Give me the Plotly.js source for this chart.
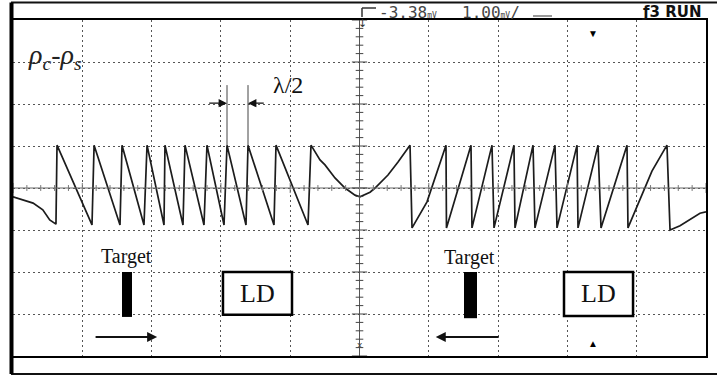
<!DOCTYPE html>
<html>
<head>
<meta charset="utf-8">
<script src="https://cdn.plot.ly/plotly-3.0.1.min.js"></script>
<style>
  html, body { margin: 0; padding: 0; background: #fff; }
  #scope { width: 717px; height: 379px; }
</style>
</head>
<body>
<div id="scope"></div>
<script>
// Scope trace: time and level in screen divisions (10 x 8 grid, centre = 0,0)
const timeDiv = [
  -5.00, -4.86, -4.71, -4.57, -4.47, -4.38,
  -4.365, -3.860,
  -3.830, -3.456,
  -3.427, -3.110,
  -3.066, -2.821,
  -2.807, -2.547,
  -2.518, -2.244,
  -2.201, -1.955,
  -1.912, -1.638,
  -1.609, -1.234,
  -1.205, -0.743,
  -0.700, -0.570, -0.498, -0.354, -0.209, -0.065, 0.007,
  0.152, 0.224, 0.411, 0.556, 0.729,
  0.758, 0.974, 1.248,
  1.255, 1.609,
  1.623, 1.912,
  1.941, 2.229,
  2.244, 2.504,
  2.532, 2.821,
  2.850, 3.139,
  3.153, 3.442,
  3.485, 3.860,
  3.874, 4.220, 4.437,
  4.481, 4.625, 4.769, 4.913, 5.000
];
const levelDiv = [
  -0.21, -0.29, -0.36, -0.52, -0.76, -0.86,
  1.02, -0.88,
  1.02, -0.88,
  1.02, -0.88,
  1.02, -0.88,
  1.02, -0.88,
  1.02, -0.88,
  1.02, -0.88,
  1.02, -0.88,
  1.02, -0.88,
  1.02, -0.88,
  1.02, 0.67, 0.55, 0.24, 0.00, -0.17, -0.21,
  -0.10, 0.00, 0.31, 0.62, 1.02,
  -0.95, -0.33, 1.02,
  -0.95, 1.02,
  -0.95, 1.02,
  -0.95, 1.02,
  -0.95, 1.02,
  -0.95, 1.02,
  -0.95, 1.02,
  -0.95, 1.02,
  -0.95, 1.02,
  -0.95, 0.40, 1.02,
  -1.00, -0.90, -0.76, -0.60, -0.57
];

// Header readouts
const offsetText = '-3.38';
const scaleText = '1.00';
const statusText = 'ƒ3 RUN';

// Labels drawn on the screen
const signalLabel = 'ρ<sub>c</sub>-ρ<sub>s</sub>';
const halfWaveLabel = 'λ/2';
const targetLabel = 'Target';
const ldLabel = 'LD';

// Half-wavelength markers sit on two neighbouring fringe edges
const halfWaveEdges = [timeDiv[20], timeDiv[22]];

const X0 = 13, X1 = 706, Y0 = 20, Y1 = 356;
const px = v => (v - X0) / (X1 - X0);      // pixel -> paper x
const py = v => (Y1 - v) / (Y1 - Y0);      // pixel -> paper y

const shapes = [];
const line = (x0, y0, x1, y1, color, width, ref) => shapes.push({
  type: 'line', xref: ref || 'x', yref: ref || 'y', x0, y0, x1, y1,
  line: { color, width }, layer: 'above'
});

// centre cross-hair with minor ticks
line(0, -4, 0, 4, '#555', 1);
line(-5, 0, 5, 0, '#666', 1);
for (let k = -20; k <= 20; k++) {
  const y = k * 0.2;
  const h = (k % 5 === 0) ? 0.11 : 0.055;
  line(-h, y, h, y, '#444', 1);
}
for (let k = -25; k <= 25; k++) {
  const x = k * 0.2;
  const h = (k % 5 === 0) ? 0.12 : 0.07;
  line(x, -h, x, h, '#777', 1);
}

// outer frame of the screen
line(px(11), py(2.5), px(717), py(2.5), '#111', 2, 'paper');
line(px(11), py(374), px(717), py(374), '#111', 2, 'paper');
line(px(11.5), py(2.5), px(11.5), py(374), '#000', 4, 'paper');
// trigger marker in header
line(px(362), py(8), px(376), py(8), '#333', 1.5, 'paper');
line(px(362), py(8), px(362), py(17), '#333', 1.5, 'paper');
line(px(533), py(16), px(552), py(16), '#555', 1.2, 'paper');

// half wavelength markers
halfWaveEdges.forEach(x => line(x, 1.02, x, 2.45, '#444', 1));

// target bars and LD boxes
shapes.push({ type: 'rect', xref: 'x', yref: 'y', x0: -3.427, x1: -3.283, y0: -3.07, y1: -2.0,
  fillcolor: '#000', line: { width: 0 }, layer: 'above' });
shapes.push({ type: 'rect', xref: 'x', yref: 'y', x0: 1.508, x1: 1.696, y0: -3.1, y1: -2.0,
  fillcolor: '#000', line: { width: 0 }, layer: 'above' });
shapes.push({ type: 'rect', xref: 'x', yref: 'y', x0: -1.97, x1: -0.974, y0: -3.02, y1: -2.0,
  fillcolor: '#fff', line: { color: '#000', width: 2.5 }, layer: 'above' });
shapes.push({ type: 'rect', xref: 'x', yref: 'y', x0: 2.951, x1: 3.947, y0: -3.05, y1: -2.0,
  fillcolor: '#fff', line: { color: '#000', width: 2.5 }, layer: 'above' });

const serif = 'Liberation Serif, Times New Roman, serif';
const mono = 'DejaVu Sans Mono, monospace';

const annotations = [
  { x: -4.40, y: 3.12, xref: 'x', yref: 'y', text: '<i>' + signalLabel + '</i>', showarrow: false,
    font: { family: serif, size: 28, color: '#222' } },
  { x: -1.03, y: 2.45, xref: 'x', yref: 'y', text: halfWaveLabel, showarrow: false,
    font: { family: serif, size: 24, color: '#111' } },
  // λ/2 arrows
  { x: halfWaveEdges[0], y: 2.02, ax: -2.19, ay: 2.02, xref: 'x', yref: 'y', axref: 'x', ayref: 'y',
    text: '', showarrow: true, arrowhead: 2, arrowsize: 1.2, arrowwidth: 1.4, arrowcolor: '#111' },
  { x: halfWaveEdges[1], y: 2.02, ax: -1.36, ay: 2.02, xref: 'x', yref: 'y', axref: 'x', ayref: 'y',
    text: '', showarrow: true, arrowhead: 2, arrowsize: 1.2, arrowwidth: 1.4, arrowcolor: '#111' },
  // targets
  { x: -3.36, y: -1.62, xref: 'x', yref: 'y', text: targetLabel, showarrow: false,
    font: { family: serif, size: 20, color: '#111' } },
  { x: 1.59, y: -1.66, xref: 'x', yref: 'y', text: targetLabel, showarrow: false,
    font: { family: serif, size: 20, color: '#111' } },
  { x: -2.92, y: -3.55, ax: -3.83, ay: -3.55, xref: 'x', yref: 'y', axref: 'x', ayref: 'y',
    text: '', showarrow: true, arrowhead: 2, arrowsize: 1, arrowwidth: 2, arrowcolor: '#111' },
  { x: 1.10, y: -3.55, ax: 2.03, ay: -3.55, xref: 'x', yref: 'y', axref: 'x', ayref: 'y',
    text: '', showarrow: true, arrowhead: 2, arrowsize: 1, arrowwidth: 2, arrowcolor: '#111' },
  // LD labels
  { x: -1.47, y: -2.5, xref: 'x', yref: 'y', text: ldLabel, showarrow: false,
    font: { family: serif, size: 26, color: '#111' } },
  { x: 3.45, y: -2.52, xref: 'x', yref: 'y', text: ldLabel, showarrow: false,
    font: { family: serif, size: 26, color: '#111' } },
  // header readouts
  { x: px(377), y: py(12.5), xref: 'paper', yref: 'paper', xanchor: 'left', yanchor: 'middle',
    text: offsetText + '<span style="font-size:8px">mV</span>', showarrow: false,
    font: { family: mono, size: 16, color: '#444' } },
  { x: px(460), y: py(12.5), xref: 'paper', yref: 'paper', xanchor: 'left', yanchor: 'middle',
    text: scaleText + '<span style="font-size:8px">mV</span>/', showarrow: false,
    font: { family: mono, size: 16, color: '#444' } },
  { x: px(703), y: py(12), xref: 'paper', yref: 'paper', xanchor: 'right', yanchor: 'middle',
    text: '<b>' + statusText + '</b>', showarrow: false,
    font: { family: 'DejaVu Sans, sans-serif', size: 15, color: '#111' } },
  { x: px(362), y: py(15), xref: 'paper', yref: 'paper', text: '↓', showarrow: false,
    font: { family: 'DejaVu Sans', size: 11, color: '#333' } },
  // time-reference markers
  { x: 3.37, y: py(24), xref: 'x', yref: 'paper', text: '▼', showarrow: false,
    font: { size: 10, color: '#000' } },
  { x: 3.37, y: py(352), xref: 'x', yref: 'paper', text: '▲', showarrow: false,
    font: { size: 10, color: '#000' } },
  { x: 0, y: py(352), xref: 'x', yref: 'paper', text: 'x', showarrow: false,
    font: { family: 'DejaVu Sans', size: 9, color: '#444' } }
];

const trace = {
  x: timeDiv, y: levelDiv, type: 'scatter', mode: 'lines',
  line: { color: '#1c1c1c', width: 1.7 }, hoverinfo: 'skip'
};

const axisCommon = {
  showgrid: true, gridcolor: '#555', gridwidth: 1, griddash: '2px,3px',
  zeroline: false, showticklabels: false, ticks: '',
  showline: true, mirror: true, linecolor: '#000', linewidth: 2, fixedrange: true
};

const layout = {
  width: 717, height: 379,
  margin: { l: X0, r: 717 - X1, t: Y0, b: 379 - Y1, pad: 0 },
  paper_bgcolor: '#fff', plot_bgcolor: '#fff',
  showlegend: false,
  xaxis: Object.assign({}, axisCommon, { range: [-5, 5], dtick: 1, tick0: 0 }),
  yaxis: Object.assign({}, axisCommon, { range: [-4, 4], dtick: 1, tick0: 0 }),
  shapes, annotations
};

Plotly.newPlot('scope', [trace], layout, { displayModeBar: false, staticPlot: true });
</script>
</body>
</html>
